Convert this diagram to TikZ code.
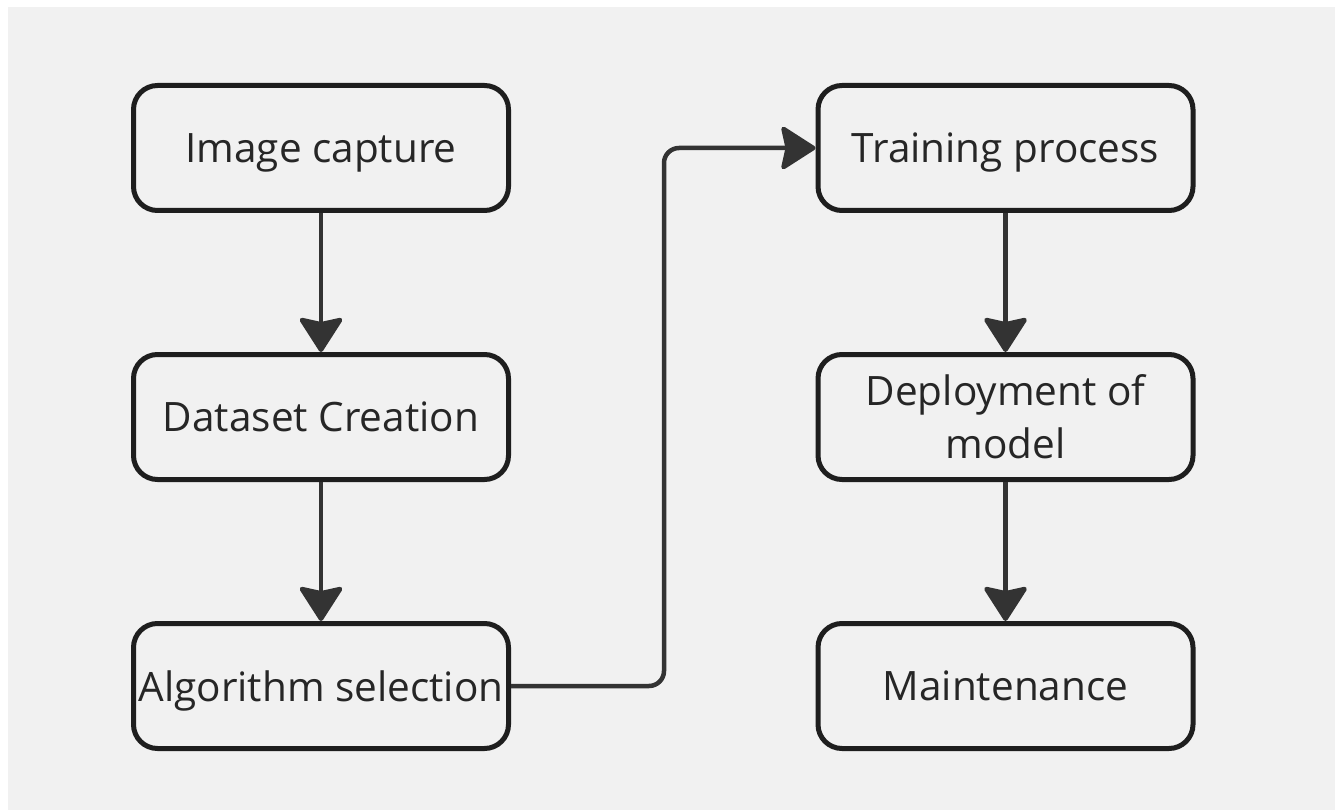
\documentclass[tikz,border=0pt]{standalone}
\usepackage{fontspec}
\setmainfont{Open Sans}
\usetikzlibrary{arrows.meta,positioning}
\definecolor{canvasgray}{HTML}{F1F1F1}
\definecolor{edgegray}{HTML}{1E1E1E}
\definecolor{flowgray}{HTML}{333333}
\definecolor{textgray}{HTML}{262626}

\begin{document}
\begin{tikzpicture}[x=1pt,y=-1pt,node distance=139pt,
  stage/.style={draw=edgegray, line width=5pt, rounded corners=24pt,
    minimum width=375pt, minimum height=125pt, inner sep=0pt,
    text depth=0pt, align=center, text=textgray,
    font=\fontsize{40.5}{53}\selectfont},
  flow/.style={draw=flowgray, line width=4.5pt,
    -{Stealth[length=37pt,width=47pt,inset=5pt,round]}}]
  % canvas
  \fill[white] (0,0) rectangle (1335,810);
  \fill[canvasgray] (8,7) rectangle (1335,810);

  % left column
  \node[stage] (capture) at (321,148) {Image capture};
  \node[stage, below=of capture] (dataset) {Dataset Creation};
  \node[stage, below=of dataset] (algo) {Algorithm selection};

  % right column
  \node[stage] (train) at (1005.5,148) {Training process};
  \node[stage, below=of train] (deploy) {Deployment of\\model};
  \node[stage, below=of deploy] (maint) {Maintenance};

  % arrows
  \draw[flow] (capture) -- (dataset);
  \draw[flow] (dataset) -- (algo);
  \draw[flow, rounded corners=15pt] (algo.east) -- ++(153,0) |- (train.west);
  \draw[flow] (train) -- (deploy);
  \draw[flow] (deploy) -- (maint);
\end{tikzpicture}
\end{document}
